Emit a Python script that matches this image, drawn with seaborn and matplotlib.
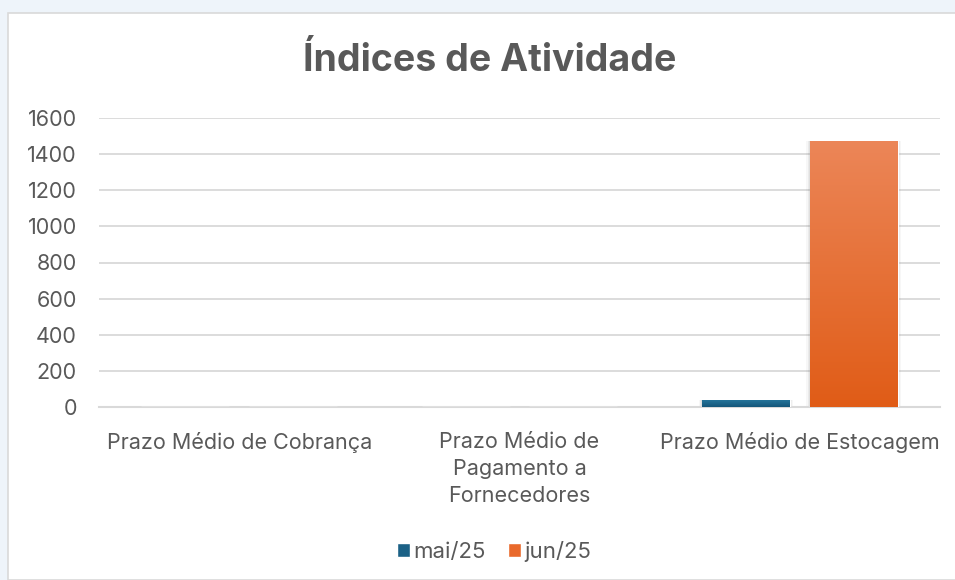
import numpy as np
import pandas as pd
import matplotlib.pyplot as plt
import seaborn as sns
from matplotlib.patches import Rectangle
from matplotlib.colors import LinearSegmentedColormap

# Data
categorias = ["Prazo Médio de Cobrança", "Prazo Médio de\nPagamento a\nFornecedores", "Prazo Médio de Estocagem"]
series = ["mai/25", "jun/25"]
mai25 = [0, 0, 38]
jun25 = [0, 0, 1473]

df = pd.DataFrame({
    "categoria": categorias * 2,
    "periodo": [series[0]] * 3 + [series[1]] * 3,
    "valor": mai25 + jun25,
})

cores = {"mai/25": "#1B6186", "jun/25": "#E9692B"}
gradientes = {
    "mai/25": ("#25749A", "#14567A"),
    "jun/25": ("#EC8658", "#E05C17"),
}

sns.set_theme(style="white")
plt.rcParams['font.family'] = ['Inter', 'DejaVu Sans']

fig = plt.figure(figsize=(9.55, 5.8), dpi=100)
fig.patch.set_facecolor("#EEF4FA")
# chart box
fig.add_artist(Rectangle((8 / 955, 0), 1, 1 - 13 / 580, transform=fig.transFigure,
                         facecolor="white", edgecolor="#D9D9D9", lw=1.2, zorder=0))

ax = fig.add_axes([99 / 955, 1 - 407 / 580, (940 - 99) / 955, (407 - 118) / 580])
ax.set_facecolor("none")

sns.barplot(data=df, x="categoria", y="valor", hue="periodo", palette=cores,
            width=0.77, gap=0.185, ax=ax, legend=False, zorder=3)

# gradient fill inside bars
for patch, per in zip(ax.patches, [series[0]] * 3 + [series[1]] * 3):
    x0, y0 = patch.get_x(), patch.get_y()
    w, h = patch.get_width(), patch.get_height()
    if h <= 0:
        continue
    cmap = LinearSegmentedColormap.from_list("g", [gradientes[per][1], gradientes[per][0]])
    grad = np.linspace(0, 1, 256).reshape(-1, 1)
    im = ax.imshow(grad, extent=[x0, x0 + w, y0, y0 + h], origin="lower", aspect="auto",
                   cmap=cmap, zorder=4)
    im.set_clip_path(patch)
    # soft shadow
    for k, a in enumerate([0.08, 0.05, 0.03]):
        ax.add_patch(Rectangle((x0 - 0.004 * (k + 1), y0 - 4 * (k + 1)), w + 0.008 * (k + 1), h + 4 * (k + 1),
                               facecolor="black", alpha=a, lw=0, zorder=2))

ax.set_xlim(-0.5, 2.5)
ax.set_ylim(0, 1600)
ax.set_yticks(range(0, 1601, 200))
ax.yaxis.grid(True, color="#D9D9D9", lw=1.3, zorder=0)
ax.xaxis.grid(False)
for s in ["top", "right", "left"]:
    ax.spines[s].set_visible(False)
ax.spines["bottom"].set_color("#D9D9D9")
ax.spines["bottom"].set_linewidth(1.5)
ax.set_xlabel("")
ax.set_ylabel("")
ax.tick_params(axis="y", length=0, labelsize=15.5, labelcolor="#595959", pad=16)
ax.tick_params(axis="x", length=0, labelsize=15.5, labelcolor="#595959", pad=18)
ax.set_xticks(range(3))
ax.set_xticklabels(categorias, linespacing=1.45)

fig.text(490 / 955, 1 - 61 / 580, "Índices de Atividade", ha="center", va="center",
         fontsize=27, fontweight="bold", color="#595959")

# legend
handles = [Rectangle((0, 0), 1, 1, facecolor=cores[s]) for s in series]
fig.legend(handles, series, loc="center", bbox_to_anchor=(494 / 955, 1 - 551 / 580), ncol=2,
           frameon=False, fontsize=16, handlelength=0.6, handleheight=0.6, handletextpad=0.15,
           columnspacing=1.0, labelcolor="#595959")

fig.savefig("out.png", dpi=100, facecolor=fig.get_facecolor())
